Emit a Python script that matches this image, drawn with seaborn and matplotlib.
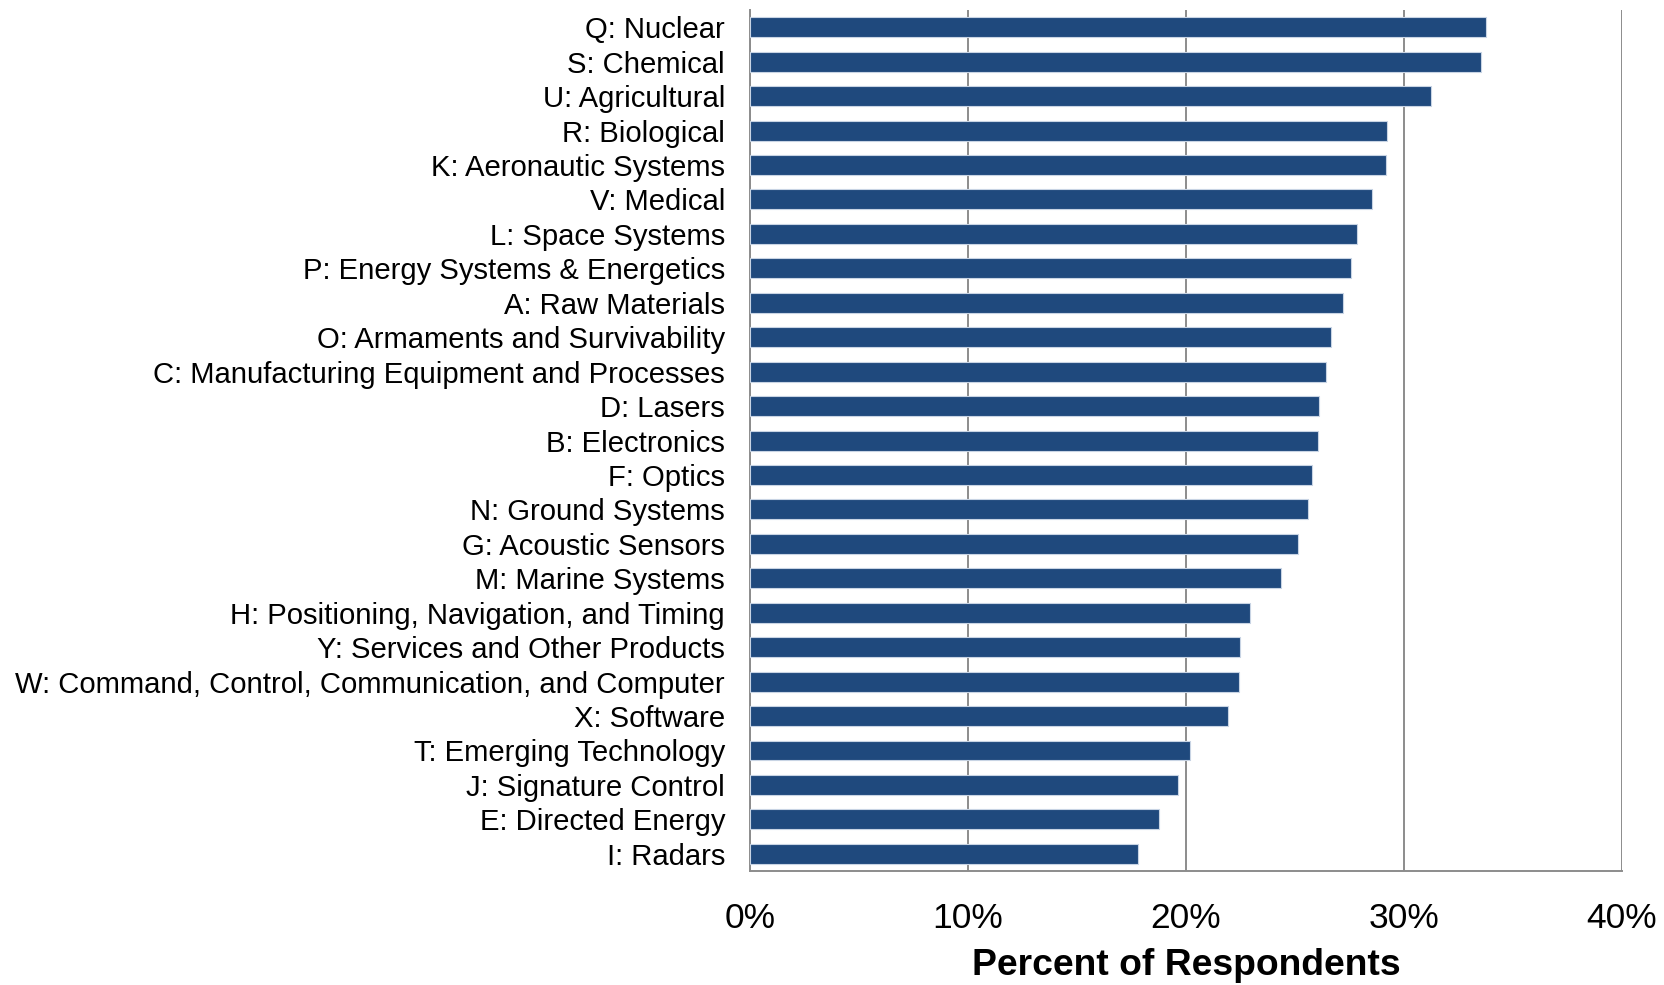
import numpy as np
import pandas as pd
import matplotlib
matplotlib.use("Agg")
import matplotlib.pyplot as plt
import seaborn as sns
from matplotlib.ticker import FixedLocator, PercentFormatter


# ======================================================
# DATA
# ======================================================
categories = [
    "Q: Nuclear",
    "S: Chemical",
    "U: Agricultural",
    "R: Biological",
    "K: Aeronautic Systems",
    "V: Medical",
    "L: Space Systems",
    "P: Energy Systems & Energetics",
    "A: Raw Materials",
    "O: Armaments and Survivability",
    "C: Manufacturing Equipment and Processes",
    "D: Lasers",
    "B: Electronics",
    "F: Optics",
    "N: Ground Systems",
    "G: Acoustic Sensors",
    "M: Marine Systems",
    "H: Positioning, Navigation, and Timing",
    "Y: Services and Other Products",
    "W: Command, Control, Communication, and Computer",
    "X: Software",
    "T: Emerging Technology",
    "J: Signature Control",
    "E: Directed Energy",
    "I: Radars",
]

percent = [
    33.8, 33.55, 31.25, 29.25, 29.2, 28.55, 27.85, 27.6, 27.2, 26.65,
    26.45, 26.1, 26.05, 25.8, 25.6, 25.15, 24.35, 22.95, 22.5, 22.45,
    21.95, 20.2, 19.65, 18.75, 17.8,
]

x_ticks = [0, 10, 20, 30, 40]
x_label = "Percent of Respondents"


# ======================================================
# PLOT
# ======================================================
def make_plot():
    sns.set_style("white")
    plt.rcParams["font.family"] = ["Liberation Sans", "DejaVu Sans"]
    plt.rcParams["text.color"] = "black"
    plt.rcParams["axes.labelcolor"] = "black"
    plt.rcParams["xtick.labelcolor"] = "black"
    plt.rcParams["ytick.labelcolor"] = "black"

    df = pd.DataFrame({"category": categories, "percent": percent})

    fig = plt.figure(figsize=(16.65, 9.85), dpi=100)
    ax = fig.add_axes([0.4505, 0.1157, 0.5234, 0.8741])

    sns.barplot(
        data=df,
        x="percent",
        y="category",
        orient="h",
        color="#1F497D",
        saturation=1,
        width=0.58,
        edgecolor="#c8d4e4",
        linewidth=0.8,
        ax=ax,
        zorder=3,
    )

    grid_col = "#8c8c8c"

    ax.set_xlim(0, 40)
    ax.set_ylim(len(categories) - 0.5, -0.5)
    ax.set_xticks(x_ticks)
    ax.xaxis.set_major_formatter(PercentFormatter(decimals=0))
    ax.grid(axis="x", color=grid_col, linewidth=1.4, zorder=0)
    ax.grid(axis="y", visible=False)
    ax.set_axisbelow(True)

    # category boundary ticks on the y axis
    ax.yaxis.set_minor_locator(FixedLocator(np.arange(-0.5, len(categories), 1.0)))
    ax.tick_params(axis="y", which="major", length=0, labelsize=21.1, pad=18,
                   labelcolor="black")
    ax.tick_params(axis="y", which="minor", length=6, width=1.3,
                   color=grid_col, direction="out")
    ax.tick_params(axis="x", which="major", length=7, width=1.3,
                   color=grid_col, direction="out", labelsize=25.5, pad=15,
                   labelcolor="black")

    for side in ["top", "right"]:
        ax.spines[side].set_visible(False)
    for side in ["left", "bottom"]:
        ax.spines[side].set_color(grid_col)
        ax.spines[side].set_linewidth(1.4)

    ax.set_ylabel("")
    ax.set_xlabel(x_label, fontsize=26.8, fontweight="bold", labelpad=9.5,
                  color="black")

    fig.savefig("out.png", dpi=100)


if __name__ == "__main__":
    make_plot()
